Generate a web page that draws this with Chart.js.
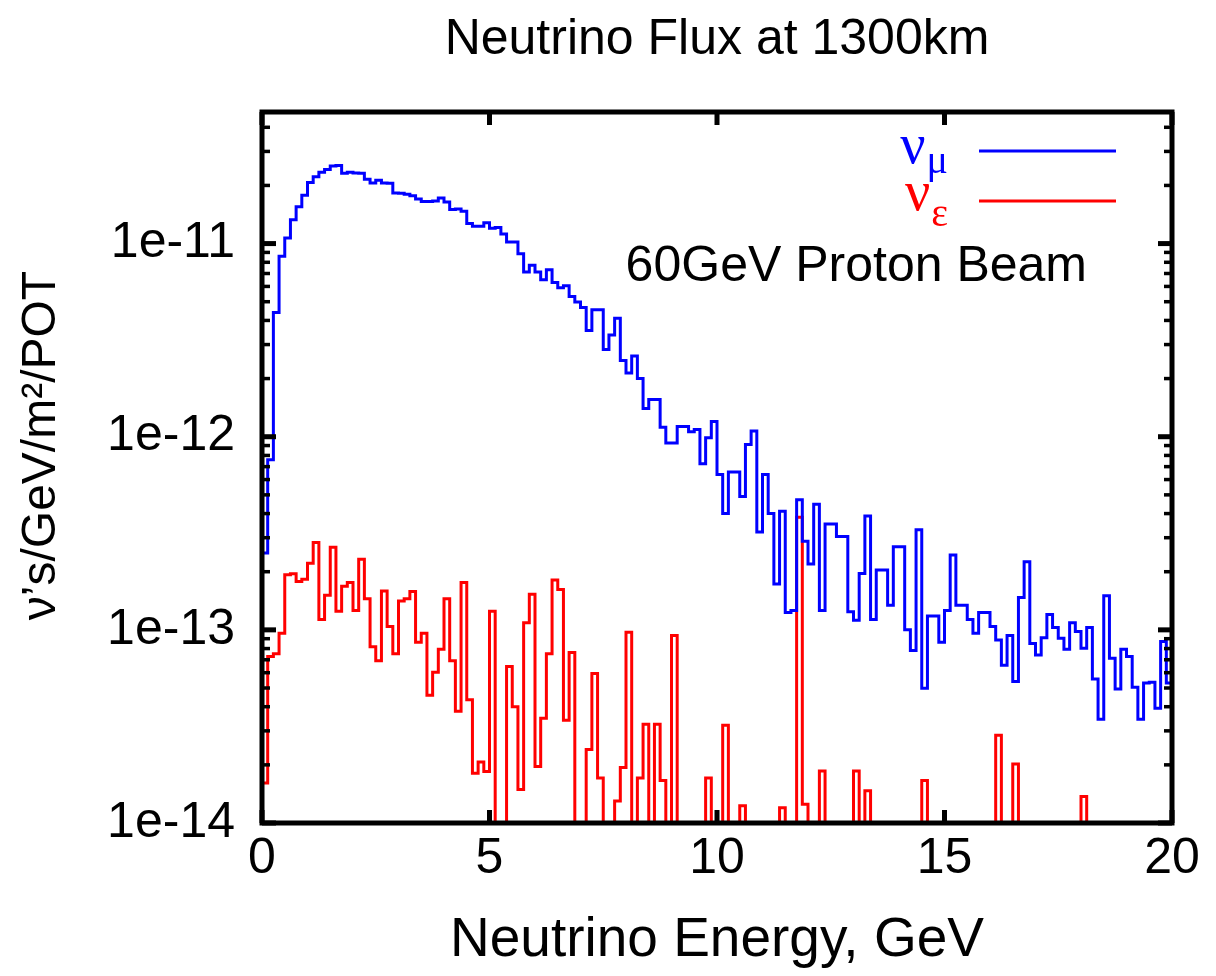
<!DOCTYPE html>
<html>
<head>
<meta charset="utf-8">
<script src="https://cdn.jsdelivr.net/npm/chart.js@4.4.1/dist/chart.umd.min.js"></script>
<style>
  html, body { margin: 0; background: #fff; }
  #wrap { width: 1216px; height: 976px; position: relative; }
</style>
</head>
<body>
<div id="wrap"><canvas id="flux"></canvas></div>
<script>
'use strict';

// histogram binning: 160 bins of 0.125 GeV from 0 to 20 GeV
const binWidth = 0.125;
// bins whose content lies under the 1e-14 floor of the plot
const BELOW = 1e-15;

// nu_mu flux per bin (nu's/GeV/m^2/POT)
const numuFlux = [
  2.5e-13, 7.6e-13, 4.4e-12, 8.6e-12, 1.07e-11, 1.33e-11, 1.55e-11, 1.78e-11, 2.07e-11, 2.22e-11,
  2.34e-11, 2.42e-11, 2.52e-11, 2.54e-11, 2.31e-11, 2.34e-11, 2.32e-11, 2.31e-11, 2.15e-11, 2.06e-11,
  2.13e-11, 2.06e-11, 2.05e-11, 1.83e-11, 1.82e-11, 1.80e-11, 1.77e-11, 1.70e-11, 1.65e-11, 1.65e-11,
  1.66e-11, 1.72e-11, 1.64e-11, 1.50e-11, 1.51e-11, 1.47e-11, 1.27e-11, 1.23e-11, 1.23e-11, 1.28e-11,
  1.20e-11, 1.21e-11, 1.12e-11, 1.02e-11, 1.02e-11, 8.86e-12, 7.12e-12, 7.73e-12, 7.12e-12, 6.49e-12,
  7.31e-12, 6.28e-12, 5.9e-12, 6.04e-12, 5.32e-12, 4.99e-12, 4.67e-12, 3.55e-12, 4.54e-12, 4.54e-12,
  2.83e-12, 3.36e-12, 4.11e-12, 2.48e-12, 2.14e-12, 2.62e-12, 2.0e-12, 1.40e-12, 1.56e-12, 1.56e-12,
  1.12e-12, 9.27e-13, 9.27e-13, 1.13e-12, 1.13e-12, 1.06e-12, 1.09e-12, 7.24e-13, 9.89e-13, 1.20e-12,
  6.38e-13, 4.0e-13, 6.56e-13, 6.56e-13, 4.9e-13, 9.12e-13, 1.07e-12, 3.21e-13, 6.38e-13, 4.0e-13,
  1.73e-13, 4.11e-13, 1.23e-13, 1.26e-13, 4.72e-13, 2.88e-13, 2.19e-13, 4.47e-13, 1.26e-13, 3.53e-13,
  3.53e-13, 3.04e-13, 3.04e-13, 1.24e-13, 1.12e-13, 1.96e-13, 3.89e-13, 1.13e-13, 2.04e-13, 2.04e-13,
  1.34e-13, 2.69e-13, 2.69e-13, 1.0e-13, 7.82e-14, 3.30e-13, 4.99e-14, 1.18e-13, 1.18e-13, 8.63e-14,
  1.26e-13, 2.44e-13, 1.34e-13, 1.34e-13, 1.13e-13, 9.6e-14, 1.23e-13, 1.23e-13, 1.04e-13, 8.87e-14,
  6.56e-14, 9.36e-14, 5.4e-14, 1.47e-13, 2.25e-13, 8.5e-14, 7.4e-14, 9.1e-14, 1.2e-13, 1.03e-13,
  9.06e-14, 7.94e-14, 1.09e-13, 9.8e-14, 8.04e-14, 1.03e-13, 5.57e-14, 3.44e-14, 1.50e-13, 7.13e-14,
  4.94e-14, 7.94e-14, 7.28e-14, 5.04e-14, 3.44e-14, 5.3e-14, 5.35e-14, 3.93e-14, 8.7e-14, 5.3e-14
];
// level the nu_mu histogram rises from at E = 0
const numuStart = 4.6e-14;

// nu_e flux per bin
const nueFlux = [
  1.61e-14, 7.28e-14, 7.52e-14, 9.6e-14, 1.93e-13, 1.95e-13, 1.78e-13, 1.83e-13, 2.21e-13, 2.83e-13,
  1.13e-13, 1.51e-13, 2.68e-13, 1.25e-13, 1.68e-13, 1.76e-13, 1.26e-13, 2.32e-13, 1.45e-13, 8.17e-14,
  6.92e-14, 1.59e-13, 1.04e-13, 7.52e-14, 1.41e-13, 1.45e-13, 1.58e-13, 8.63e-14, 9.6e-14, 4.59e-14,
  6.04e-14, 7.94e-14, 1.45e-13, 6.92e-14, 3.79e-14, 1.76e-13, 4.35e-14, 1.81e-14, 2.07e-14, 1.85e-14,
  1.25e-13, BELOW, BELOW, 6.46e-14, 4.0e-14, 1.49e-14, 1.09e-13, 1.53e-13, 1.96e-14, 3.49e-14,
  7.52e-14, 1.81e-13, 1.62e-13, 3.4e-14, 7.64e-14, BELOW, BELOW, 2.4e-14, 5.94e-14, 1.71e-14,
  BELOW, BELOW, 1.3e-14, 1.94e-14, 9.72e-14, BELOW, 1.71e-14, 3.25e-14, BELOW, 3.25e-14,
  1.66e-14, BELOW, 9.36e-14, BELOW, BELOW, BELOW, BELOW, BELOW, 1.71e-14, BELOW,
  BELOW, 3.21e-14, BELOW, BELOW, 1.23e-14, BELOW, BELOW, BELOW, BELOW, BELOW,
  BELOW, 1.2e-14, BELOW, BELOW, 3.83e-13, 1.25e-14, BELOW, BELOW, 1.86e-14, BELOW,
  BELOW, BELOW, BELOW, BELOW, 1.86e-14, BELOW, 1.47e-14, BELOW, BELOW, BELOW,
  BELOW, BELOW, BELOW, BELOW, BELOW, BELOW, 1.66e-14, BELOW, BELOW, BELOW,
  BELOW, BELOW, BELOW, BELOW, BELOW, BELOW, BELOW, BELOW, BELOW, 2.85e-14,
  BELOW, BELOW, 2.02e-14, BELOW, BELOW, BELOW, BELOW, BELOW, BELOW, BELOW,
  BELOW, BELOW, BELOW, BELOW, 1.37e-14, BELOW, BELOW, BELOW, BELOW, BELOW,
  BELOW, BELOW, BELOW, BELOW, BELOW, BELOW, BELOW, BELOW, BELOW, BELOW
];

const xTicks = [0, 5, 10, 15, 20];
const yTicks = [1e-14, 1e-13, 1e-12, 1e-11];
const yTickLabels = ['1e-14', '1e-13', '1e-12', '1e-11'];
const yMin = 1e-14;
const yMax = 4.8e-11;
const yTitle = 'ν’s/GeV/m²/POT';

Chart.defaults.font.family = '"Liberation Sans", Arial, sans-serif';
Chart.defaults.color = '#000';

// turn per-bin contents into step points: each point holds until the next edge
function histogram (values, start)
{
    const pts = [{x: 0, y: start}];
    values.forEach((v, i) => pts.push({x: i * binWidth, y: v}));
    pts.push({x: values.length * binWidth, y: values[values.length - 1]});
    return pts;
}

function segment (ctx, x1, y1, x2, y2)
{
    ctx.beginPath();
    ctx.moveTo(x1, y1);
    ctx.lineTo(x2, y2);
    ctx.stroke();
}

// frame, inward ticks, key, y title and the beam note
const decorations = {
    id: 'decorations',
    afterDatasetsDraw (chart)
    {
        const {ctx, chartArea: a, scales: {x, y}} = chart;
        ctx.save();
        ctx.strokeStyle = '#000';
        ctx.lineCap = 'butt';

        // minor log ticks
        ctx.lineWidth = 3.5;
        for (let d = -15; d <= -11; d++)
        {
            for (let m = 2; m <= 9; m++)
            {
                const v = m * Math.pow(10, d);
                if (v <= yMin || v >= yMax) continue;
                const py = y.getPixelForValue(v);
                segment(ctx, a.left, py, a.left + 8, py);
                segment(ctx, a.right, py, a.right - 8, py);
            }
        }

        // major ticks
        ctx.lineWidth = 5;
        for (const v of yTicks)
        {
            const py = y.getPixelForValue(v);
            segment(ctx, a.left, py, a.left + 14, py);
            segment(ctx, a.right, py, a.right - 14, py);
        }
        for (const v of xTicks)
        {
            const px = x.getPixelForValue(v);
            segment(ctx, px, a.bottom, px, a.bottom - 13);
            segment(ctx, px, a.top, px, a.top + 13);
        }

        // frame
        ctx.lineWidth = 5;
        ctx.strokeRect(a.left, a.top, a.right - a.left, a.bottom - a.top);

        // key
        const keyRight = a.right - 224;
        const keys = [
            {sub: 'μ', color: chart.data.datasets[0].borderColor, lineY: a.top + 39, base: a.top + 51, subDrop: 10},
            {sub: 'ε', color: chart.data.datasets[1].borderColor, lineY: a.top + 89, base: a.top + 98, subDrop: 16}
        ];
        ctx.textBaseline = 'alphabetic';
        ctx.textAlign = 'left';
        for (const k of keys)
        {
            ctx.font = '40px "Liberation Serif"';
            const subW = ctx.measureText(k.sub).width;
            ctx.font = '56px "Liberation Serif"';
            const nuW = ctx.measureText('ν').width;
            ctx.fillStyle = k.color;
            ctx.fillText('ν', keyRight - subW - nuW - 1, k.base);
            ctx.font = '40px "Liberation Serif"';
            ctx.fillText(k.sub, keyRight - subW, k.base + k.subDrop);

            ctx.strokeStyle = k.color;
            ctx.lineWidth = 3;
            segment(ctx, a.right - 193, k.lineY, a.right - 56, k.lineY);
        }

        // beam note
        ctx.fillStyle = '#000';
        ctx.font = '50px "Liberation Sans"';
        ctx.textAlign = 'right';
        ctx.fillText('60GeV Proton Beam', a.right - 85, a.top + 169);

        // y axis title, sitting a little above the plot centre as in the original
        ctx.save();
        ctx.translate(42, (a.top + a.bottom) / 2 - 22);
        ctx.rotate(-Math.PI / 2);
        ctx.textAlign = 'center';
        ctx.textBaseline = 'middle';
        ctx.font = '48px "Liberation Sans"';
        ctx.fillText(yTitle, 0, 0);
        ctx.restore();

        ctx.restore();
    }
};

new Chart(document.getElementById('flux'), {
    type: 'line',
    data: {
        datasets: [
            {
                label: 'numu',
                data: histogram(numuFlux, numuStart),
                borderColor: '#0000ff',
                borderWidth: 3,
                stepped: 'before',
                pointRadius: 0,
                fill: false
            },
            {
                label: 'nue',
                data: histogram(nueFlux, BELOW),
                borderColor: '#ff0000',
                borderWidth: 3,
                stepped: 'before',
                pointRadius: 0,
                fill: false
            }
        ]
    },
    options: {
        responsive: true,
        maintainAspectRatio: false,
        animation: false,
        events: [],
        layout: {padding: {left: 0, right: 44, top: 0, bottom: 0}},
        plugins: {
            legend: {display: false},
            tooltip: {enabled: false},
            title: {
                display: true,
                text: 'Neutrino Flux at 1300km',
                fullSize: false,
                color: '#000',
                font: {size: 50, weight: 'normal', lineHeight: 1.2},
                padding: {top: 10, bottom: 42}
            }
        },
        scales: {
            x: {
                type: 'linear',
                min: 0,
                max: 20,
                afterBuildTicks: (s) => { s.ticks = xTicks.map((v) => ({value: v})); },
                afterFit: (s) => { s.height = 153; },
                grid: {display: false, drawTicks: false},
                border: {display: false},
                ticks: {padding: 6, maxRotation: 0, font: {size: 50}, color: '#000'},
                title: {
                    display: true,
                    text: 'Neutrino Energy, GeV',
                    font: {size: 55, lineHeight: 1.2},
                    color: '#000',
                    padding: {top: 0, bottom: 2}
                }
            },
            y: {
                type: 'logarithmic',
                min: yMin,
                max: yMax,
                afterBuildTicks: (s) => { s.ticks = yTicks.map((v) => ({value: v})); },
                afterFit: (s) => { s.width = 262; },
                grid: {display: false, drawTicks: false},
                border: {display: false},
                ticks: {
                    padding: 27,
                    font: {size: 50},
                    color: '#000',
                    callback: (v) =>
                    {
                        const i = yTicks.findIndex((t) => Math.abs(t - v) / t < 1e-6);
                        return i < 0 ? '' : yTickLabels[i];
                    }
                },
                title: {display: false}
            }
        }
    },
    plugins: [decorations]
});
</script>
</body>
</html>
